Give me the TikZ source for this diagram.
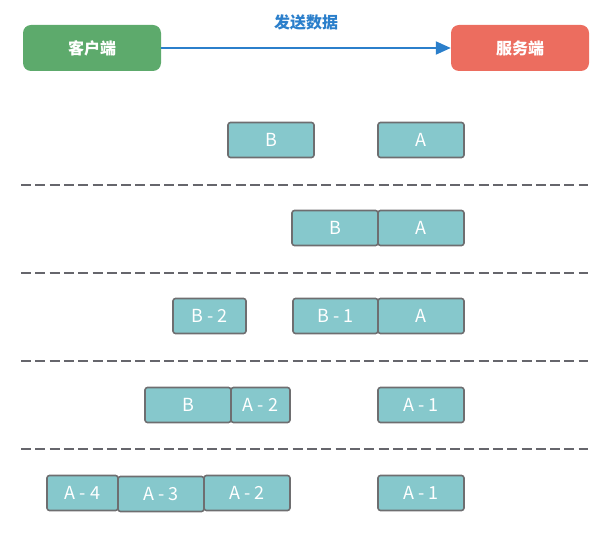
\documentclass[tikz,border=0pt]{standalone}
\usepackage{fontspec}
\setmainfont{Noto Sans CJK SC}
\usepackage{tikz}
\usetikzlibrary{arrows.meta,positioning}

\definecolor{pktfill}{HTML}{86C8CC}
\definecolor{pktline}{HTML}{6E6E70}
\definecolor{cligreen}{HTML}{5DAA6C}
\definecolor{srvred}{HTML}{EC6D5F}
\definecolor{sendblue}{HTML}{2B7FCB}
\definecolor{sepgray}{HTML}{66666C}

\tikzset{
  peer/.style={rounded corners=8pt,minimum width=138pt,minimum height=46pt,
    text=white,font=\fontsize{16}{19}\selectfont\bfseries,inner sep=0pt},
  pkt/.style={draw=pktline,line width=1.6pt,fill=pktfill,rounded corners=2.5pt,
    minimum height=35pt,inner sep=0pt,text=white,font=\fontsize{18}{21}\selectfont},
  sep/.style={sepgray,line width=2.6pt,dash pattern=on 10pt off 4.3pt}
}

\begin{document}
\begin{tikzpicture}[x=1pt,y=-1pt]
  \useasboundingbox (0,0) rectangle (611,537);
  % client / server
  \node[peer,fill=cligreen] (client) at (92,48) {客户端};
  \node[peer,fill=srvred]   (server) at (520,48) {服务端};
  \draw[sendblue,line width=2pt,-{Triangle[length=15pt,width=13pt]}] (client) -- (server)
    node[midway,above=13pt,font=\fontsize{16}{19}\selectfont\bfseries] (send) {发送数据};

  % separators
  \foreach \y in {185,273,361,449}
    \draw[sep] (21,\y) -- (588,\y);

  % row 1
  \node[pkt,minimum width=86pt] (r1b) at (271,140) {B};
  \node[pkt,minimum width=86pt] (r1a) at (421,140) {A};
  % row 2
  \node[pkt,minimum width=86pt] (r2b) at (335,228) {B};
  \node[pkt,minimum width=86pt] (r2a) at (421,228) {A};
  % row 3
  \node[pkt,minimum width=73pt] (r3b2) at (209.5,316) {B - 2};
  \node[pkt,minimum width=85pt] (r3b1) at (335.5,316) {B - 1};
  \node[pkt,minimum width=86pt] (r3a)  at (421,316) {A};
  % row 4
  \node[pkt,minimum width=86pt] (r4b)  at (188,405) {B};
  \node[pkt,minimum width=59pt] (r4a2) at (260.5,405) {A - 2};
  \node[pkt,minimum width=86pt] (r4a1) at (421,405) {A - 1};
  % row 5
  \node[pkt,minimum width=71pt] (r5a4) at (82.5,493) {A - 4};
  \node[pkt,minimum width=86pt] (r5a3) at (161,494) {A - 3};
  \node[pkt,minimum width=86pt] (r5a2) at (247,493) {A - 2};
  \node[pkt,minimum width=86pt] (r5a1) at (421,493) {A - 1};
\end{tikzpicture}
\end{document}
